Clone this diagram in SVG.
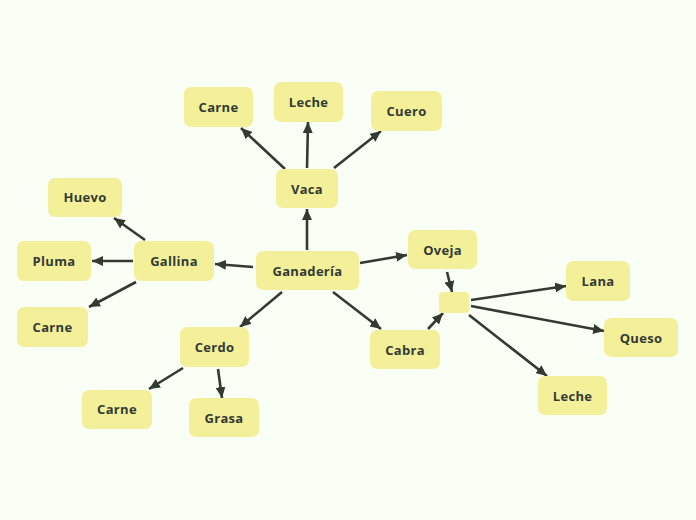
<svg xmlns="http://www.w3.org/2000/svg" width="696" height="520" viewBox="0 0 696 520">
<defs>
<style>
.n rect{fill:#f4f09a;stroke:none}
.n text{font-family:"Open Sans","Liberation Sans",sans-serif;font-size:13px;font-weight:700;fill:#333a33;text-anchor:middle;letter-spacing:0.3px}
.c line{stroke:#323a32;stroke-width:2.6;fill:none;marker-end:url(#ah)}
</style>
<marker id="ah" markerUnits="userSpaceOnUse" markerWidth="12" markerHeight="10" refX="11" refY="5" orient="auto">
<path d="M0,0 L11,5 L0,10 z" fill="#323a32"/>
</marker>
</defs>
<rect width="696" height="520" fill="#fafff5"/>
<g id="connectors" class="c">
<line x1="307" y1="250" x2="307" y2="209"/>
<line x1="253" y1="267" x2="215" y2="264"/>
<line x1="360" y1="263" x2="407" y2="255"/>
<line x1="282" y1="292" x2="240" y2="327"/>
<line x1="333" y1="292" x2="381" y2="329"/>
<line x1="285" y1="169" x2="241" y2="128"/>
<line x1="307" y1="168" x2="308" y2="122"/>
<line x1="334" y1="168" x2="381" y2="131"/>
<line x1="145" y1="240" x2="114" y2="218"/>
<line x1="133" y1="261" x2="92" y2="261"/>
<line x1="136" y1="282" x2="89" y2="307"/>
<line x1="183" y1="368" x2="149" y2="389"/>
<line x1="218" y1="369" x2="222" y2="398"/>
<line x1="447" y1="272" x2="452" y2="292"/>
<line x1="428" y1="329" x2="443" y2="313"/>
<line x1="471" y1="300" x2="566" y2="286"/>
<line x1="471" y1="306" x2="604" y2="331"/>
<line x1="469" y1="315" x2="547" y2="376"/>
</g>
<g id="ganaderia" class="n"><rect x="256" y="251" width="103" height="39" rx="7"/><text x="307.5" y="275.5">Ganadería</text></g>
<g id="vaca" class="n"><rect x="276" y="169" width="62" height="39" rx="7"/><text x="307" y="193.5">Vaca</text></g>
<g id="vaca-carne" class="n"><rect x="184" y="87" width="69" height="40" rx="7"/><text x="218.5" y="111.5">Carne</text></g>
<g id="vaca-leche" class="n"><rect x="274" y="82" width="69" height="40" rx="7"/><text x="308.5" y="106.5">Leche</text></g>
<g id="vaca-cuero" class="n"><rect x="371" y="91" width="71" height="40" rx="7"/><text x="406.5" y="115.5">Cuero</text></g>
<g id="gallina" class="n"><rect x="134" y="241" width="80" height="40" rx="7"/><text x="174" y="265.5">Gallina</text></g>
<g id="gallina-huevo" class="n"><rect x="48" y="178" width="74" height="39" rx="7"/><text x="85" y="202">Huevo</text></g>
<g id="gallina-pluma" class="n"><rect x="17" y="241" width="74" height="40" rx="7"/><text x="54" y="265.5">Pluma</text></g>
<g id="gallina-carne" class="n"><rect x="17" y="307" width="71" height="40" rx="7"/><text x="52.5" y="331.5">Carne</text></g>
<g id="cerdo" class="n"><rect x="180" y="327" width="69" height="40" rx="7"/><text x="214.5" y="351.5">Cerdo</text></g>
<g id="cerdo-carne" class="n"><rect x="82" y="390" width="70" height="39" rx="7"/><text x="117" y="414">Carne</text></g>
<g id="cerdo-grasa" class="n"><rect x="189" y="398" width="70" height="39" rx="7"/><text x="224" y="422.5">Grasa</text></g>
<g id="cabra" class="n"><rect x="370" y="330" width="70" height="39" rx="7"/><text x="405" y="354.5">Cabra</text></g>
<g id="oveja" class="n"><rect x="408" y="230" width="69" height="39" rx="7"/><text x="442.5" y="254.5">Oveja</text></g>
<g id="junction" class="n"><rect x="439" y="292" width="30" height="21" rx="4"/></g>
<g id="lana" class="n"><rect x="566" y="261" width="64" height="40" rx="7"/><text x="598" y="285.5">Lana</text></g>
<g id="queso" class="n"><rect x="604" y="318" width="74" height="39" rx="7"/><text x="641" y="342.5">Queso</text></g>
<g id="leche" class="n"><rect x="538" y="376" width="69" height="39" rx="7"/><text x="572.5" y="400.5">Leche</text></g>
</svg>
